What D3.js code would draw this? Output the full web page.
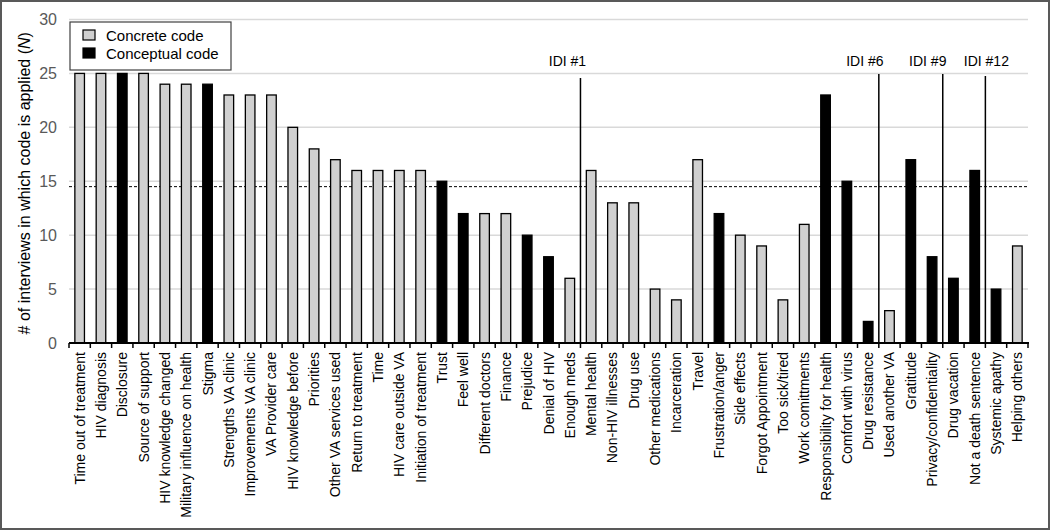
<!DOCTYPE html>
<html>
<head>
<meta charset="utf-8">
<script src="https://cdn.jsdelivr.net/npm/d3@7"></script>
<style>
  html, body { margin: 0; padding: 0; background: #fff; }
  svg { display: block; font-family: "Liberation Sans", Arial, sans-serif; }
</style>
</head>
<body>
<svg id="chart" width="1050" height="530"></svg>
<script>
// ---- DATA ----
const categories = [
  "Time out of treatment", "HIV diagnosis", "Disclosure", "Source of support",
  "HIV knowledge changed", "Military influence on health", "Stigma",
  "Strengths VA clinic", "Improvements VA clinic", "VA Provider care",
  "HIV knowledge before", "Priorities", "Other VA services used",
  "Return to treatment", "Time", "HIV care outside VA", "Initiation of treatment",
  "Trust", "Feel well", "Different doctors", "Finance", "Prejudice",
  "Denial of HIV", "Enough meds", "Mental health", "Non-HIV illnesses",
  "Drug use", "Other medications", "Incarceration", "Travel",
  "Frustration/anger", "Side effects", "Forgot Appointment", "Too sick/tired",
  "Work comittments", "Responsibility for health", "Comfort with virus",
  "Drug resistance", "Used another VA", "Gratitude", "Privacy/confidentiality",
  "Drug vacation", "Not a death sentence", "Systemic apathy", "Helping others"
];
const interviewCounts = [
  25, 25, 25, 25, 24, 24, 24, 23, 23, 23, 20, 18, 17, 16, 16, 16, 16,
  15, 12, 12, 12, 10, 8, 6, 16, 13, 13, 5, 4, 17, 12, 10, 9, 4, 11,
  23, 15, 2, 3, 17, 8, 6, 16, 5, 9
];
// "concrete" or "conceptual"
const codeTypes = [
  "concrete", "concrete", "conceptual", "concrete", "concrete", "concrete", "conceptual",
  "concrete", "concrete", "concrete", "concrete", "concrete", "concrete",
  "concrete", "concrete", "concrete", "concrete",
  "conceptual", "conceptual", "concrete", "concrete", "conceptual",
  "conceptual", "concrete", "concrete", "concrete",
  "concrete", "concrete", "concrete", "concrete",
  "conceptual", "concrete", "concrete", "concrete",
  "concrete", "conceptual", "conceptual",
  "conceptual", "concrete", "conceptual", "conceptual",
  "conceptual", "conceptual", "conceptual", "concrete"
];
const legendLabels = ["Concrete code", "Conceptual code"];
const legendTypes = ["concrete", "conceptual"];
const yTicks = [0, 5, 10, 15, 20, 25, 30];
const thresholdValue = 14.5;
// IDI markers: placed after the named category
const idiLabels = ["IDI #1", "IDI #6", "IDI #9", "IDI #12"];
const idiAfter = ["Enough meds", "Drug resistance", "Privacy/confidentiality", "Not a death sentence"];

// ---- STYLE ----
const W = 1050, H = 530;
const plot = { left: 69, right: 1028, top: 19.5, bottom: 343 };
const fills = { concrete: "#d0d0d0", conceptual: "#000000" };
const idiLabelDx = [-13, -14, -15, 1];
const idiLineTop = [78, 74, 74, 76];

const svg = d3.select("#chart");

// outer frame
svg.append("rect").attr("x", 1).attr("y", 1).attr("width", W - 2).attr("height", H - 2)
  .attr("fill", "#fff").attr("stroke", "#595959").attr("stroke-width", 2);

const x = d3.scaleBand().domain(categories).range([plot.left, plot.right]).padding(0);
const y = d3.scaleLinear().domain([0, 30]).range([plot.bottom, plot.top]);
const barW = x.bandwidth() * 0.45;

// gridlines
svg.append("g").selectAll("line").data(yTicks.filter(d => d > 0)).join("line")
  .attr("x1", plot.left).attr("x2", plot.right)
  .attr("y1", d => y(d)).attr("y2", d => y(d))
  .attr("stroke", "#d9d9d9").attr("stroke-width", 1.5);

// y axis labels
const yAxis = d3.axisLeft(y).tickValues(yTicks).tickSize(0).tickPadding(12);
const yg = svg.append("g").attr("transform", `translate(${plot.left},0)`).call(yAxis);
yg.select(".domain").remove();
yg.selectAll("text").attr("fill", "#595959").style("font-size", "16px")
  .style("font-family", '"Liberation Sans", Arial, sans-serif');

// threshold dashed line
svg.append("line")
  .attr("x1", plot.left).attr("x2", plot.right)
  .attr("y1", y(thresholdValue)).attr("y2", y(thresholdValue))
  .attr("stroke", "#000").attr("stroke-width", 1).attr("stroke-dasharray", "3,2");

// bars
svg.append("g").selectAll("rect").data(categories).join("rect")
  .attr("x", d => x(d) + (x.bandwidth() - barW) / 2)
  .attr("y", (d, i) => y(interviewCounts[i]))
  .attr("width", barW)
  .attr("height", (d, i) => y(0) - y(interviewCounts[i]))
  .attr("fill", (d, i) => fills[codeTypes[i]])
  .attr("stroke", "#000").attr("stroke-width", 1.3);

// x axis
const boundaries = categories.map(c => x(c)).concat([plot.right]);
const xg = svg.append("g");
xg.append("line").attr("x1", plot.left).attr("x2", plot.right + 1)
  .attr("y1", plot.bottom).attr("y2", plot.bottom)
  .attr("stroke", "#000").attr("stroke-width", 2);
xg.selectAll("line.tick").data(boundaries).join("line").attr("class", "tick")
  .attr("x1", d => d).attr("x2", d => d)
  .attr("y1", plot.bottom).attr("y2", plot.bottom + 5)
  .attr("stroke", "#000").attr("stroke-width", 1.5);
xg.selectAll("text").data(categories).join("text")
  .attr("transform", d => `translate(${x(d) + x.bandwidth() / 2 + 5},${plot.bottom + 9}) rotate(-90)`)
  .attr("text-anchor", "end")
  .style("font-size", "14px")
  .attr("fill", "#000")
  .text(d => d);

// IDI markers
idiAfter.forEach((c, i) => {
  const lx = x(c) + x.bandwidth();
  svg.append("line").attr("x1", lx).attr("x2", lx)
    .attr("y1", idiLineTop[i]).attr("y2", plot.bottom)
    .attr("stroke", "#000").attr("stroke-width", 1.5);
  svg.append("text").attr("x", lx + idiLabelDx[i]).attr("y", 66)
    .attr("text-anchor", "middle").style("font-size", "14px")
    .text(idiLabels[i]);
});

// legend
const lg = svg.append("g");
lg.append("rect").attr("x", 70).attr("y", 22).attr("width", 161).attr("height", 48)
  .attr("fill", "#fff").attr("stroke", "#404040").attr("stroke-width", 1.2);
legendLabels.forEach((lab, i) => {
  lg.append("rect").attr("x", 83).attr("y", 30 + i * 18).attr("width", 12).attr("height", 10)
    .attr("fill", fills[legendTypes[i]]).attr("stroke", "#000").attr("stroke-width", 1.2);
  lg.append("text").attr("x", 106).attr("y", 41 + i * 18)
    .style("font-size", "15px").text(lab);
});

// y title
const title = svg.append("text")
  .attr("transform", `translate(30,${(plot.top + plot.bottom) / 2 + 2}) rotate(-90)`)
  .attr("text-anchor", "middle").style("font-size", "16px");
title.append("tspan").text("# of interviews in which code is applied (");
title.append("tspan").style("font-style", "italic").text("N");
title.append("tspan").text(")");
</script>
</body>
</html>
